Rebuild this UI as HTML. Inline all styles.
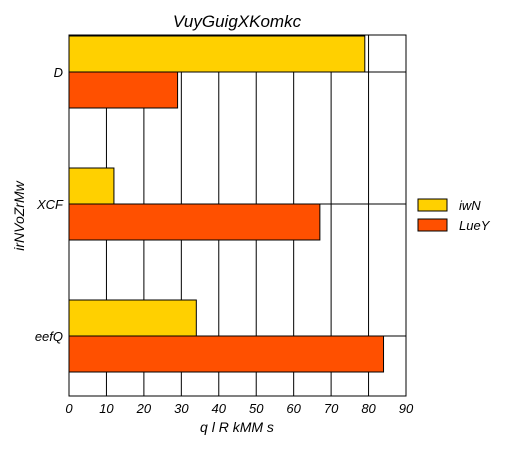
<!DOCTYPE html>
<html><head><meta charset="utf-8"><style>
body{margin:0;background:#fff;}
svg text{font-family:"Liberation Sans",sans-serif;font-style:italic;fill:#000;}
</style></head><body>
<svg id="c" width="512" height="448"></svg>
<script>
const categories=["D","XCF","eefQ"];
const seriesNames=["iwN","LueY"];
const iwN=[79,12,34];
const lueY=[29,67,84];
const xTicks=[0,10,20,30,40,50,60,70,80,90];
const colors=["#ffd000","#ff5000"];
const svg=document.getElementById('c');
const NS="http://www.w3.org/2000/svg";
const L=69,R=406,T=35,B=396,xMax=90;
const x=v=>L+(R-L)*v/xMax;
const band=132;
const yc=i=>T+37+band*i;
function mk(t,a,txt){const e=document.createElementNS(NS,t);for(const k in a)e.setAttribute(k,a[k]);if(txt!==undefined)e.textContent=txt;svg.appendChild(e);return e;}
let e=mk('rect',{x:L,y:T,width:R-L,height:B-T,fill:'#fff',stroke:'none'});


xTicks.forEach(t=>{
 e=mk('line',{x1:x(t),x2:x(t),y1:T,y2:B,stroke:'#000','stroke-width':1});
 
 
 e=mk('text',{x:x(t),y:413,'text-anchor':'middle','font-size':13},t);
 
 
});
categories.forEach((c,i)=>{
 e=mk('line',{x1:L,x2:R,y1:yc(i),y2:yc(i),stroke:'#000','stroke-width':1});
 
 
 e=mk('text',{x:63,y:yc(i)+5,'text-anchor':'end','font-size':13},c);
 
 
});
const bh=36;
[iwN,lueY].forEach((s,si)=>{
 s.forEach((v,i)=>{
  const y0=yc(i)-bh+si*bh;
  e=mk('rect',{x:L,y:y0,width:x(v)-L,height:bh,fill:colors[si],stroke:'#000','stroke-width':1});
  
  
 });
});
e=mk('rect',{x:L,y:T,width:R-L,height:B-T,fill:'none',stroke:'#000','stroke-width':1});


e=mk('text',{x:237,y:27,'text-anchor':'middle','font-size':17},'VuyGuigXKomkc');


e=mk('text',{x:237,y:432,'text-anchor':'middle','font-size':14},'q l R kMM s');


e=mk('text',{x:0,y:0,'text-anchor':'middle','font-size':14,transform:'translate(24,216) rotate(-90)'},'irNVoZrMw');


seriesNames.forEach((n,si)=>{
 e=mk('rect',{x:418,y:199+si*20,width:29,height:12,fill:colors[si],stroke:'#000','stroke-width':1});
 
 
 e=mk('text',{x:459,y:210+si*20,'font-size':13},n);
 
 
});
</script>
</body></html>
